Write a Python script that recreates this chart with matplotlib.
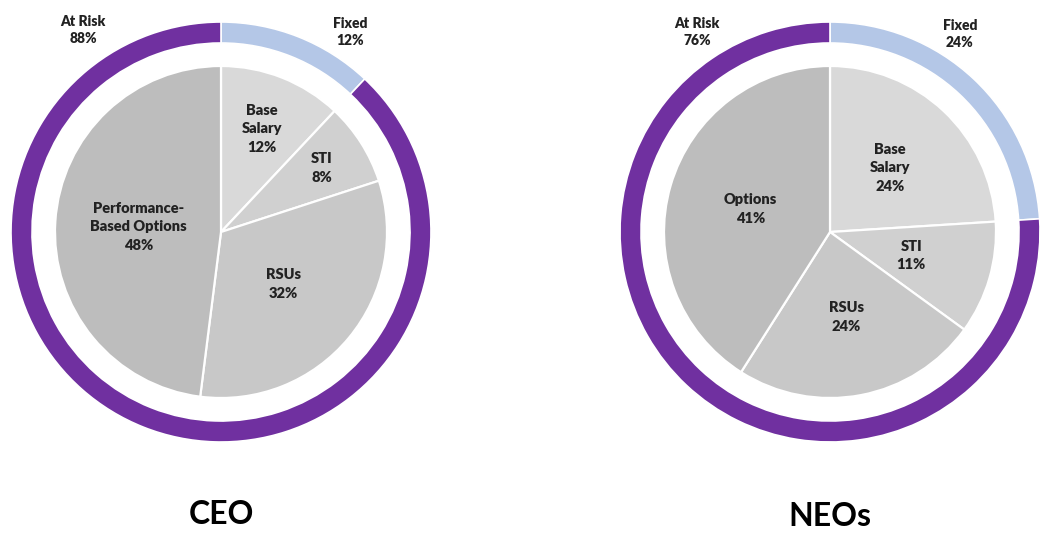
import matplotlib
matplotlib.use("Agg")
import matplotlib.pyplot as plt
import numpy as np

# ---- data ----
ceo_labels = ["Base\nSalary", "STI", "RSUs", "Performance-\nBased Options"]
ceo_values = [12, 8, 32, 48]
ceo_outer_labels = ["Fixed", "At Risk"]
ceo_outer_values = [12, 88]

neo_labels = ["Base\nSalary", "STI", "RSUs", "Options"]
neo_values = [24, 11, 24, 41]
neo_outer_labels = ["Fixed", "At Risk"]
neo_outer_values = [24, 76]

titles = ["CEO", "NEOs"]

# ---- style ----
W, H = 1040, 540
inner_colors = ["#D9D9D9", "#D0D0D0", "#C8C8C8", "#BDBDBD"]
outer_colors = ["#B4C7E7", "#7030A0"]
text_color = "#222222"
FONT = ["Lato", "DejaVu Sans"]

charts = [
    dict(values=ceo_values, labels=ceo_labels, ovalues=ceo_outer_values, olabels=ceo_outer_labels,
         center=(221, 232), label_frac=[0.67, 0.72, 0.49, 0.50],
         outer_pos={"Fixed": (350, 32), "At Risk": (83, 30)}, title=titles[0], title_y=514),
    dict(values=neo_values, labels=neo_labels, ovalues=neo_outer_values, olabels=neo_outer_labels,
         center=(830, 232), label_frac=[0.53, 0.51, 0.52, 0.50],
         outer_pos={"Fixed": (960, 34), "At Risk": (697, 32)}, title=titles[1], title_y=516),
]

R_OUT, RING_W, R_IN = 210, 21, 166

fig = plt.figure(figsize=(W / 100, H / 100), dpi=100)
ax = fig.add_axes([0, 0, 1, 1])

for c in charts:
    cx, cy = c["center"]
    cy_m = H - cy
    ax.pie(c["ovalues"], colors=outer_colors, radius=R_OUT, center=(cx, cy_m),
           startangle=90, counterclock=False,
           wedgeprops=dict(width=RING_W, edgecolor="white", linewidth=1.2))
    wedges, _ = ax.pie(c["values"], colors=inner_colors, radius=R_IN, center=(cx, cy_m),
                       startangle=90, counterclock=False,
                       wedgeprops=dict(edgecolor="white", linewidth=1.6))
    for w, lab, v, f in zip(wedges, c["labels"], c["values"], c["label_frac"]):
        ang = np.deg2rad((w.theta1 + w.theta2) / 2)
        x = cx + f * R_IN * np.cos(ang)
        y = cy_m + f * R_IN * np.sin(ang)
        ax.text(x, y, f"{lab}\n{v}%", ha="center", va="center", fontsize=10.5,
                fontweight="heavy", color=text_color, family=FONT, linespacing=1.5)
    for lab, v in zip(c["olabels"], c["ovalues"]):
        px, py = c["outer_pos"][lab]
        ax.text(px, H - py, f"{lab}\n{v}%", ha="center", va="center", fontsize=10,
                fontweight="heavy", color=text_color, family=FONT, linespacing=1.45)
    ax.text(cx, H - c["title_y"], c["title"], ha="center", va="center", fontsize=23,
            fontweight="bold", color="black", family=FONT)

ax.set_xlim(0, W)
ax.set_ylim(0, H)
ax.set_aspect("equal")
ax.axis("off")

fig.savefig("out.png", dpi=100, facecolor="white")
